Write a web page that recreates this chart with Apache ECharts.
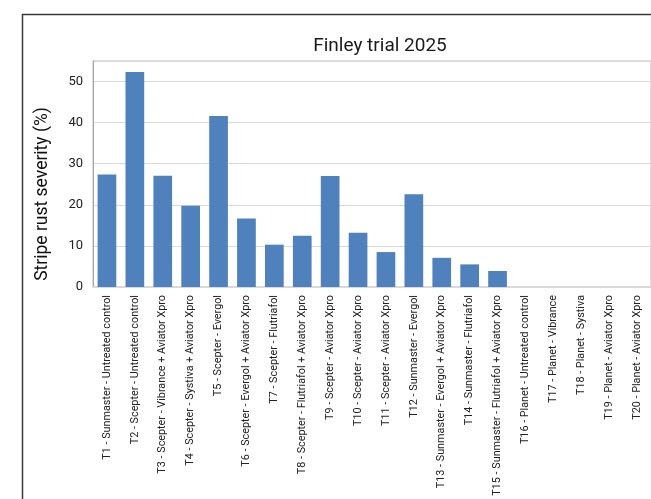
<!DOCTYPE html>
<html>
<head>
<meta charset="utf-8">
<script src="https://cdn.jsdelivr.net/npm/echarts@6/dist/echarts.min.js"></script>
<style>
  html, body { margin: 0; padding: 0; background: #fff; }
  #chart { width: 651px; height: 499px; }
</style>
</head>
<body>
<div id="chart"></div>
<script>
const treatments = [
  'T1 - Sunmaster - Untreated control',
  'T2 - Scepter - Untreated control',
  'T3 - Scepter - Vibrance + Aviator Xpro',
  'T4 - Scepter - Systiva + Aviator Xpro',
  'T5 - Scepter - Evergol',
  'T6 - Scepter - Evergol + Aviator Xpro',
  'T7 - Scepter - Flutriafol',
  'T8 - Scepter - Flutriafol + Aviator Xpro',
  'T9 - Scepter - Aviator Xpro',
  'T10 - Scepter - Aviator Xpro',
  'T11 - Scepter - Aviator Xpro',
  'T12 - Sunmaster - Evergol',
  'T13 - Sunmaster - Evergol + Aviator Xpro',
  'T14 - Sunmaster - Flutriafol',
  'T15 - Sunmaster - Flutriafol + Aviator Xpro',
  'T16 - Planet - Untreated control',
  'T17 - Planet - Vibrance',
  'T18 - Planet - Systiva',
  'T19 - Planet - Aviator Xpro',
  'T20 - Planet - Aviator Xpro'
];
const severity = [27.4, 52.3, 27.1, 19.8, 41.6, 16.7, 10.3, 12.5, 27.0, 13.2,
  8.5, 22.6, 7.1, 5.5, 3.9, 0, 0, 0, 0, 0];

const chart = echarts.init(document.getElementById('chart'));

chart.setOption({
  animation: false,
  title: {
    text: 'Finley trial 2025',
    left: 375,
    top: 32,
    textAlign: 'center',
    textStyle: { fontFamily: 'Roboto', fontSize: 19, fontWeight: 'normal', color: '#1a1a1a' }
  },
  graphic: [{
    type: 'rect',
    left: 20, top: 12,
    shape: { width: 700, height: 600 },
    style: { fill: 'none', stroke: '#3a3a3a', lineWidth: 1.5 },
    silent: true
  }],
  grid: {
    left: 93, top: 61, width: 564, bottom: 212,
    show: true, borderColor: '#b8b8b8', borderWidth: 1
  },
  xAxis: {
    type: 'category',
    data: treatments,
    axisTick: { show: false },
    axisLine: { lineStyle: { color: '#d9d9d9', width: 1.5 } },
    axisLabel: {
      interval: 0, rotate: 90, margin: 8,
      fontFamily: 'Roboto', fontSize: 10.8, color: '#222'
    }
  },
  yAxis: {
    type: 'value',
    min: 0, max: 55, interval: 10,
    name: 'Stripe rust severity (%)',
    nameLocation: 'middle',
    nameGap: 41,
    nameTextStyle: { fontFamily: 'Roboto', fontSize: 17.5, color: '#111', padding: [0, 40, 0, 0] },
    axisLine: { show: true, lineStyle: { color: '#a8a8a8' } },
    axisTick: { show: false },
    splitLine: { lineStyle: { color: '#d9d9d9' } },
    axisLabel: { margin: 10, fontFamily: 'Roboto', fontSize: 13, color: '#222', showMaxLabel: false }
  },
  series: [{
    type: 'bar',
    data: severity,
    barCategoryGap: '33%',
    itemStyle: { color: '#4f81bd' }
  }]
});
</script>
</body>
</html>
